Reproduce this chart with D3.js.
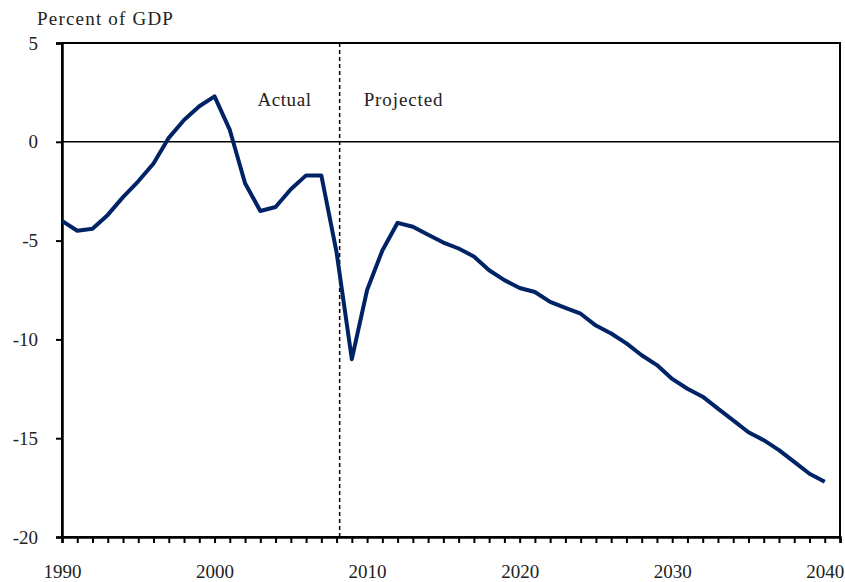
<!DOCTYPE html>
<html>
<head>
<meta charset="utf-8">
<script src="https://cdn.jsdelivr.net/npm/d3@7"></script>
<style>
  body { margin: 0; background: #fff; }
  text { font-family: "Liberation Serif", "DejaVu Serif", serif; fill: #222; }
</style>
</head>
<body>
<svg id="chart" width="845" height="582"></svg>
<script>
// federal surplus/deficit, percent of GDP
const years = d3.range(1990, 2041);
const balance = [
  -4.0, -4.5, -4.4, -3.7, -2.8, -2.0, -1.1, 0.2, 1.1, 1.8,
  2.3, 0.6, -2.1, -3.5, -3.3, -2.4, -1.7, -1.7, -5.6, -11.0,
  -7.5, -5.5, -4.1, -4.3, -4.7, -5.1, -5.4, -5.8, -6.5, -7.0,
  -7.4, -7.6, -8.1, -8.4, -8.7, -9.3, -9.7, -10.2, -10.8, -11.3,
  -12.0, -12.5, -12.9, -13.5, -14.1, -14.7, -15.1, -15.6, -16.2, -16.8,
  -17.2
];
const yTicks = [5, 0, -5, -10, -15, -20];
const xLabels = [1990, 2000, 2010, 2020, 2030, 2040];
const dividerYear = 2008.2;

const margin = {top: 43, right: 5, bottom: 45, left: 62};
const width = 845 - margin.left - margin.right;
const height = 582 - margin.top - margin.bottom;

const svg = d3.select('#chart');
const g = svg.append('g')
    .attr('transform', `translate(${margin.left},${margin.top})`);

const x = d3.scaleLinear()
    .domain([1990, 2041])
    .range([0, width]);
const y = d3.scaleLinear()
    .domain([-20, 5])
    .range([height, 0]);

// frame
g.append('rect')
    .attr('width', width)
    .attr('height', height)
    .attr('fill', 'none')
    .attr('stroke', '#000')
    .attr('stroke-width', 2);

// zero line
g.append('line')
    .attr('x1', 0).attr('x2', width)
    .attr('y1', y(0)).attr('y2', y(0))
    .attr('stroke', '#000')
    .attr('stroke-width', 1.5);

// y axis (plain hyphen for negatives, like the original)
const yAxis = g.append('g')
    .call(d3.axisLeft(y)
        .tickValues(yTicks)
        .tickSize(6)
        .tickPadding(18)
        .tickFormat(d => String(d)));
yAxis.select('.domain').attr('stroke-width', 2.5);
yAxis.selectAll('.tick line').attr('stroke-width', 2);
yAxis.selectAll('.tick text')
    .attr('font-size', 19)
    .attr('fill', '#222')
    .attr('font-family', '"Liberation Serif", serif');

// x axis: a tick every year, labels every ten
const xAxis = g.append('g')
    .attr('transform', `translate(0,${height})`)
    .call(d3.axisBottom(x)
        .tickValues(d3.range(1990, 2042))
        .tickSize(6)
        .tickPadding(22)
        .tickFormat(d => xLabels.includes(d) ? d : ''));
xAxis.select('.domain').attr('stroke-width', 2.5);
xAxis.selectAll('.tick line').attr('stroke-width', 2);
xAxis.selectAll('.tick text')
    .attr('font-size', 19)
    .attr('fill', '#222')
    .attr('font-family', '"Liberation Serif", serif');

// actual / projected divider
g.append('line')
    .attr('x1', x(dividerYear)).attr('x2', x(dividerYear))
    .attr('y1', 0).attr('y2', height)
    .attr('stroke', '#000')
    .attr('stroke-width', 1.5)
    .attr('stroke-dasharray', '4,3');

g.append('text')
    .attr('x', x(dividerYear) - 28)
    .attr('y', 63)
    .attr('text-anchor', 'end')
    .attr('font-size', 19)
    .attr('letter-spacing', 0.6)
    .text('Actual');

g.append('text')
    .attr('x', x(dividerYear) + 24)
    .attr('y', 63)
    .attr('font-size', 19)
    .attr('letter-spacing', 0.9)
    .text('Projected');

// the series
const line = d3.line()
    .x((d, i) => x(years[i]))
    .y(d => y(d));

g.append('path')
    .datum(balance)
    .attr('fill', 'none')
    .attr('stroke', '#002366')
    .attr('stroke-width', 4)
    .attr('stroke-linejoin', 'round')
    .attr('d', line);

// unit label
svg.append('text')
    .attr('x', 37)
    .attr('y', 25)
    .attr('font-size', 19)
    .attr('letter-spacing', 1.2)
    .text('Percent of GDP');
</script>
</body>
</html>
